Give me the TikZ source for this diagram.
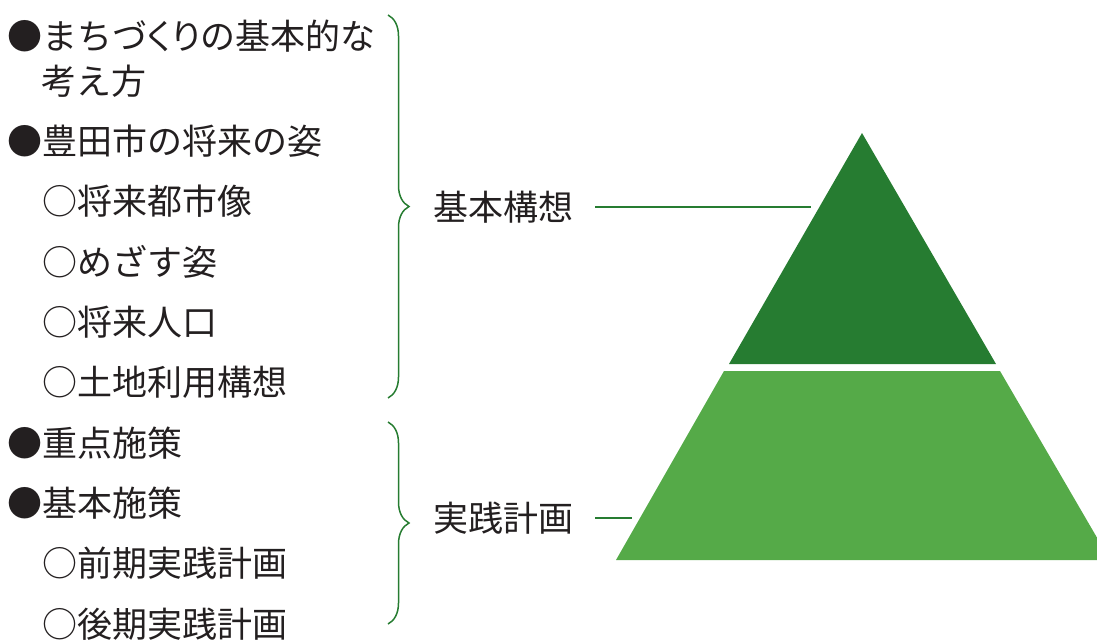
\documentclass[tikz,border=0pt]{standalone}
\usepackage{fontspec}
\setmainfont{Noto Sans CJK JP}
\usetikzlibrary{decorations.pathreplacing}
\definecolor{darkgreen}{HTML}{267C31}
\definecolor{lightgreen}{HTML}{55AA48}
\definecolor{textgray}{HTML}{231F20}
\tikzset{
  item/.style={anchor=base west, inner sep=0pt, text=textgray, font=\fontsize{35}{40}\selectfont},
  label/.style={anchor=west, inner sep=0pt, text=textgray, font=\fontsize{35}{40}\selectfont},
  curly/.style={draw=darkgreen, line width=1.5pt, decorate, decoration={brace, amplitude=21pt}},
  leader/.style={draw=darkgreen, line width=1.5pt}
}
\newcommand{\tightkana}[1]{{\addfontfeature{RawFeature=+palt}#1}}
\begin{document}
\begin{tikzpicture}[x=1pt,y=-1pt]
        \clip (0,0) rectangle (1097,642);
        % pyramid
        \fill[darkgreen] (862,133) -- (996,364) -- (729,364) -- cycle;
        \fill[lightgreen] (724,371) -- (1000,371) -- (1110,560) -- (616,560) -- cycle;
        \coordinate (topedge) at (811,207);
        \coordinate (botedge) at (632,518);
        % left list
        \node[item] (machi) at (7,50) {●まちづ\tightkana{くり}の基本的な};
        \node[item] (kangae) at (41,94) {考え方};
        \node[item] (sugata) at (7,154) {●豊田市の将来の姿};
        \node[item] (toshi) at (42,214) {○将来都市像};
        \node[item] (mezasu) at (42,275) {○めざす姿};
        \node[item] (jinko) at (42,335) {○将来人口};
        \node[item] (tochi) at (42,395) {○土地利用構想};
        \node[item] (juten) at (7,456) {●重点施策};
        \node[item] (shisaku) at (7,516) {●基本施策};
        \node[item] (zenki) at (42,576) {○前期実践計画};
        \node[item] (koki) at (42,637) {○後期実践計画};
        % braces
        \coordinate (b1top) at (388,15);
        \coordinate (b1bot) at (388,398);
        \coordinate (b2top) at (388,422);
        \coordinate (b2bot) at (388,624);
        \draw[curly] (b1top) -- (b1bot);
        \draw[curly] (b2top) -- (b2bot);
        % labels
        \node[label] (kihon) at (433,207) {基本構想};
        \node[label] (jissen) at (433,518) {実践計画};
        \draw[leader] ([xshift=22pt]kihon.east) -- (topedge);
        \draw[leader] ([xshift=22pt]jissen.east) -- (botedge);
    \end{tikzpicture}
\end{document}
